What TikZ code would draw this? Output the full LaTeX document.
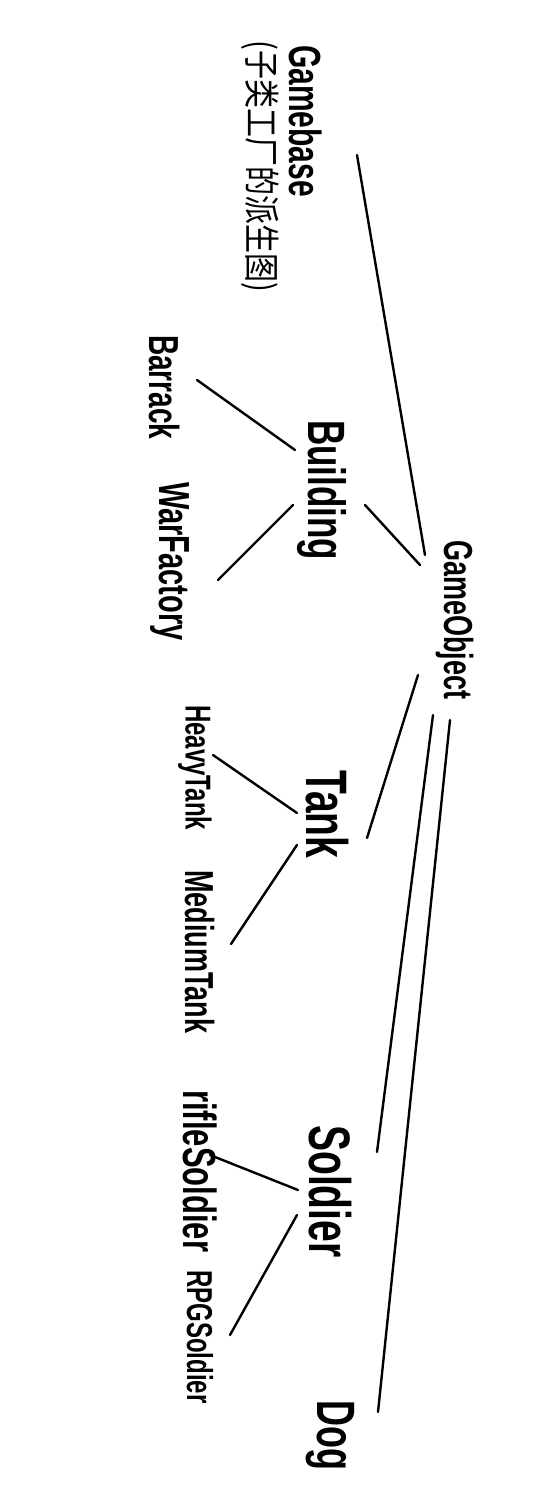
\documentclass[tikz,border=0pt]{standalone}
\usepackage{fontspec}
\setmainfont{Liberation Sans}
\newfontfamily\cjk{Noto Sans CJK SC}
\newcommand{\fsz}[1]{\fontsize{#1}{#1}\selectfont}
\newcommand{\tall}[1]{\scalebox{1}[1.5]{#1}}
\begin{document}
\begin{tikzpicture}[x=1pt,y=-1pt,
  lbl/.style={rotate=-90,anchor=west,inner sep=0pt,text=black},
  edge/.style={draw=black,line width=2.4pt,line cap=round}]
\fill[white] (0,0) rectangle (557,1502);
\useasboundingbox (0,0) rectangle (557,1502);
% nodes
\node[lbl,font=\bfseries\fsz{30}] (gamebase) at (306,45) {\tall{Gamebase}};
\node[lbl,font=\cjk\fsz{29}] (note) at (260,40) {\scalebox{1}[1.25]{(子类工厂的派生图)}};
\node[lbl,font=\bfseries\fsz{27}] (gameobject) at (455,540) {\tall{GameObject}};
\node[lbl,font=\bfseries\fsz{35}] (building) at (322,420) {\tall{Building}};
\node[lbl,font=\bfseries\fsz{28}] (barrack) at (165,335) {\tall{Barrack}};
\node[lbl,font=\bfseries\fsz{29}] (warfactory) at (170,482) {\tall{WarFactory}};
\node[lbl,font=\bfseries\fsz{39}] (tank) at (327,770) {\tall{Tank}};
\node[lbl,font=\bfseries\fsz{24}] (heavytank) at (195,705) {\tall{HeavyTank}};
\node[lbl,font=\bfseries\fsz{27}] (mediumtank) at (200,870) {\tall{MediumTank}};
\node[lbl,font=\bfseries\fsz{39}] (soldier) at (330,1125) {\tall{Soldier}};
\node[lbl,font=\bfseries\fsz{31}] (riflesoldier) at (200,1090) {\tall{rifleSoldier}};
\node[lbl,font=\bfseries\fsz{24}] (rpgsoldier) at (200,1270) {\tall{RPGSoldier}};
\node[lbl,font=\bfseries\fsz{36}] (dog) at (330,1400) {\tall{Dog}};
% connectors
\draw[edge] ([shift={(51,110)}]gamebase.west) -- ([shift={(-30,15)}]gameobject.west);
\draw[edge] ([shift={(43,85)}]building.west) -- ([shift={(-35,25)}]gameobject.west);
\draw[edge] ([shift={(32,45)}]barrack.west) -- ([shift={(-27,30)}]building.west);
\draw[edge] ([shift={(48,98)}]warfactory.west) -- ([shift={(-29,85)}]building.west);
\draw[edge] ([shift={(-37,135)}]gameobject.west) -- ([shift={(40,68)}]tank.west);
\draw[edge] ([shift={(18,50)}]heavytank.west) -- ([shift={(-30,43)}]tank.west);
\draw[edge] ([shift={(31,74)}]mediumtank.west) -- ([shift={(-30,75)}]tank.west);
\draw[edge] ([shift={(-22,175)}]gameobject.west) -- ([shift={(47,27)}]soldier.west);
\draw[edge] ([shift={(10,65)}]riflesoldier.west) -- ([shift={(-32,65)}]soldier.west);
\draw[edge] ([shift={(30,65)}]rpgsoldier.west) -- ([shift={(-33,90)}]soldier.west);
\draw[edge] ([shift={(-5,180)}]gameobject.west) -- ([shift={(48,12)}]dog.west);
\end{tikzpicture}
\end{document}
